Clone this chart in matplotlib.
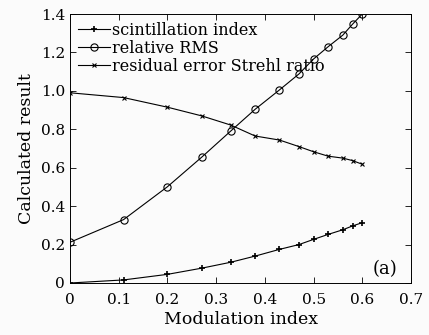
import matplotlib
matplotlib.use("Agg")
import matplotlib.pyplot as plt

plt.rcParams['font.family'] = ['DejaVu Serif']
plt.rcParams['mathtext.fontset'] = 'dejavuserif'

modulation = [0, 0.11, 0.2, 0.27, 0.33, 0.38, 0.43, 0.47, 0.5, 0.53, 0.56, 0.58, 0.6]
scint = [0.0, 0.016, 0.045, 0.077, 0.108, 0.14, 0.175, 0.2, 0.227, 0.253, 0.277, 0.297, 0.314]
rel_rms = [0.212, 0.33, 0.501, 0.654, 0.791, 0.904, 1.005, 1.088, 1.166, 1.23, 1.29, 1.347, 1.4]
strehl = [0.99, 0.965, 0.915, 0.87, 0.822, 0.765, 0.744, 0.71, 0.683, 0.66, 0.65, 0.637, 0.618]

fig = plt.figure(figsize=(4.29, 3.35), dpi=100)
fig.patch.set_facecolor('#fbfbfb')
ax = fig.add_axes([70/429, 52/335, 341/429, 269/335])
ax.set_facecolor('#fbfbfb')

ax.plot(modulation, scint, color='k', lw=0.8, marker='+', ms=5, mew=1.2,
        label='scintillation index')
ax.plot(modulation, rel_rms, color='k', lw=0.8, marker='o', ms=5.2, mfc='none', mew=0.8,
        label='relative RMS')
ax.plot(modulation, strehl, color='k', lw=0.8, marker='x', ms=3.5, mew=0.8,
        label='residual error Strehl ratio')

ax.set_xlim(0, 0.7)
ax.set_ylim(0, 1.4)
ax.set_xticks([0, 0.1, 0.2, 0.3, 0.4, 0.5, 0.6, 0.7])
ax.set_xticklabels(['0', '0.1', '0.2', '0.3', '0.4', '0.5', '0.6', '0.7'])
ax.set_yticks([0, 0.2, 0.4, 0.6, 0.8, 1.0, 1.2, 1.4])
ax.set_yticklabels(['0', '0.2', '0.4', '0.6', '0.8', '1.0', '1.2', '1.4'])
ax.tick_params(direction='in', top=True, right=True, length=4, width=0.6, labelsize=11)
ax.tick_params(axis='x', pad=7)
for s in ax.spines.values():
    s.set_linewidth(0.7)

ax.set_xlabel('Modulation index', fontsize=12.5, labelpad=3)
ax.set_ylabel('Calculated result', fontsize=12.5, labelpad=4)

ax.text(0.647, 0.07, '(a)', fontsize=13, ha='center', va='center')

leg = ax.legend(loc='upper left', frameon=False, fontsize=11.5, handlelength=2.0,
                handletextpad=0.1, labelspacing=0.05, borderaxespad=0.3,
                borderpad=0.2)

fig.savefig('out.png', dpi=100, facecolor=fig.get_facecolor())
